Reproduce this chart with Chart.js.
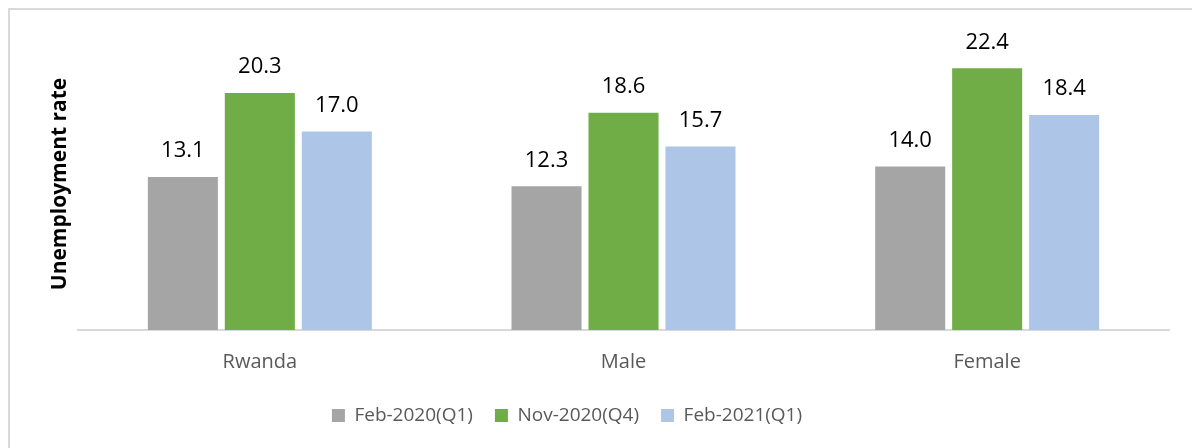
<!DOCTYPE html>
<html lang="en">
<head>
    <meta charset="UTF-8">
    <title>Unemployment rate</title>
    <script src="https://cdn.jsdelivr.net/npm/chart.js"></script>
    <style>
        body { margin: 0; background: #fff; }
        .frame {
            position: absolute;
            left: 8px;
            top: 8px;
            width: 1300px;
            height: 600px;
            border-left: 2px solid #d9d9d9;
            border-top: 2px solid #d9d9d9;
        }
        .wrap {
            position: absolute;
            left: 0;
            top: 0;
            width: 1192px;
            height: 448px;
        }
    </style>
</head>
<body>
    <div class="frame"></div>
    <div class="wrap"><canvas id="chart"></canvas></div>

    <script>
        const categories = ["Rwanda", "Male", "Female"];
        const seriesNames = ["Feb-2020(Q1)", "Nov-2020(Q4)", "Feb-2021(Q1)"];
        const feb2020 = [13.1, 12.3, 14.0];
        const nov2020 = [20.3, 18.6, 22.4];
        const feb2021 = [17.0, 15.7, 18.4];
        const colors = ["#a5a5a5", "#70ad47", "#adc5e7"];

        // value labels above each bar
        const valueLabels = {
            id: 'valueLabels',
            afterDatasetsDraw(chart) {
                const ctx = chart.ctx;
                ctx.save();
                ctx.font = '22px "Open Sans"';
                ctx.fillStyle = '#000';
                ctx.textAlign = 'center';
                ctx.textBaseline = 'middle';
                chart.data.datasets.forEach((ds, i) => {
                    chart.getDatasetMeta(i).data.forEach((bar, j) => {
                        ctx.fillText(ds.data[j].toFixed(1), bar.x, bar.y - 26);
                    });
                });
                ctx.restore();
            }
        };

        // legend sits left of the plot centre, as in the source
        const shiftLegend = {
            id: 'shiftLegend',
            afterLayout(chart) {
                chart.legend.left = 0;
                chart.legend.right = 1134;
            }
        };

        new Chart(document.getElementById('chart'), {
            type: 'bar',
            data: {
                labels: categories,
                datasets: [feb2020, nov2020, feb2021].map((d, i) => ({
                    label: seriesNames[i],
                    data: d,
                    backgroundColor: colors[i],
                    borderWidth: 0,
                    categoryPercentage: 0.635,
                    barPercentage: 0.91
                }))
            },
            options: {
                responsive: true,
                maintainAspectRatio: false,
                animation: false,
                layout: { padding: { top: 38, right: 23, bottom: 13, left: 0 } },
                scales: {
                    x: {
                        grid: { display: false, drawTicks: false },
                        border: { display: true, color: '#d9d9d9', width: 2 },
                        ticks: {
                            color: '#595959',
                            font: { family: 'Open Sans', size: 20 },
                            padding: 20
                        },
                        afterFit(scale) { scale.height -= 10; }
                    },
                    y: {
                        min: 0,
                        max: 25,
                        grid: { display: false, drawTicks: false },
                        border: { display: false },
                        ticks: { display: false },
                        title: {
                            display: true,
                            text: 'Unemployment rate',
                            color: '#000',
                            font: { family: 'Open Sans', size: 21, weight: 'bold' },
                            padding: { top: 47, bottom: 0 }
                        },
                        afterFit(scale) { scale.width = 78; }
                    }
                },
                plugins: {
                    legend: {
                        position: 'bottom',
                        labels: {
                            color: '#595959',
                            font: { family: 'Open Sans', size: 19 },
                            boxWidth: 13,
                            boxHeight: 13,
                            padding: 22
                        }
                    },
                    tooltip: { enabled: false }
                }
            },
            plugins: [valueLabels, shiftLegend]
        });
    </script>
</body>
</html>
